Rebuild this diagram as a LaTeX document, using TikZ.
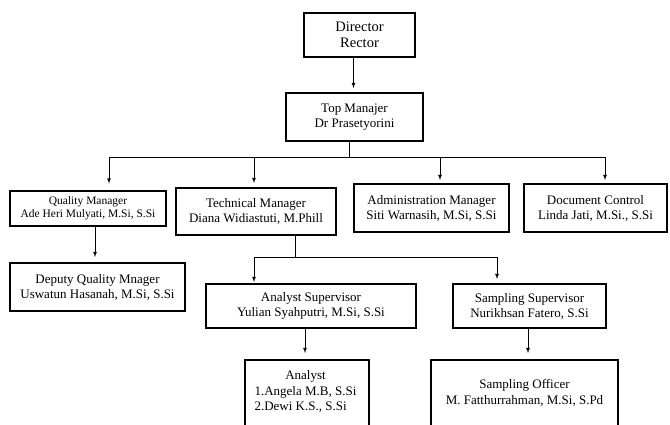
\documentclass[tikz,border=0pt]{standalone}
\usepackage{fontspec}
\setmainfont{Liberation Serif}
\usetikzlibrary{arrows, positioning}

\tikzset{
    box/.style={draw, line width=2pt, align=center, inner sep=2pt, font=\fontsize{13}{15}\selectfont},
    boxtext/.style={align=center, font=\fontsize{13}{15.5}\selectfont},
    link/.style={line width=0.8pt},
    arr/.style={-latex, line width=0.8pt},
}

\begin{document}
\begin{tikzpicture}[x=1pt, y=-1pt]
    \useasboundingbox (0,0) rectangle (670,424);
    \clip (0,0) rectangle (670,424);

    % Head of the chart
    \node[box, line width=2.6pt, minimum width=111, minimum height=44, font=\fontsize{14.5}{16}\selectfont] (dir) at (359.5,35) {Director\\Rector};
    \node[box, minimum width=137, minimum height=48] (top) at (354.5,117) {Top Manajer\\Dr Prasetyorini};

    % Managers
    \node[box, minimum width=156, minimum height=35, font=\fontsize{11.5}{13.5}\selectfont] (qm) at (88,208) {Quality Manager\\Ade Heri Mulyati, M.Si, S.Si};
    \node[box, minimum width=160, minimum height=47] (tm) at (256,211.5) {Technical Manager\\Diana Widiastuti, M.Phill};
    \node[box, minimum width=155, minimum height=48] (am) at (431.5,208) {Administration Manager\\Siti Warnasih, M.Si, S.Si};
    \node[box, minimum width=143, minimum height=48] (dc) at (595.5,208) {Document Control\\Linda Jati, M.Si., S.Si};

    % Second level
    \node[box, minimum width=175, minimum height=48] (dq) at (97.5,287) {Deputy Quality Mnager\\Uswatun Hasanah, M.Si, S.Si};
    \node[box, minimum width=210, minimum height=44] (as) at (311,306) {Analyst Supervisor\\Yulian Syahputri, M.Si, S.Si};
    \node[box, minimum width=153, minimum height=44] (ss) at (529.5,306) {Sampling Supervisor\\Nurikhsan Fatero, S.Si};

    % Staff (cut by the lower edge)
    \node[box, minimum width=124, minimum height=90, anchor=north] (an) at (307,359) {};
    \node[boxtext] (antext) at (305.5,392) {\begin{tabular}{@{}l@{}}\multicolumn{1}{@{}c@{}}{Analyst}\\1.Angela M.B, S.Si\\2.Dewi K.S., S.Si\end{tabular}};
    \node[box, minimum width=187, minimum height=90, anchor=north] (so) at (524.5,359) {};
    \node[boxtext] (sotext) at (524.5,393) {Sampling Officer\\M. Fatthurrahman, M.Si, S.Pd};

    % Director to top
    \draw[arr, shorten >=4pt] ([xshift=-6]dir.south) -- ([xshift=-6]dir.south |- top.north);

    % Top to managers
    \coordinate (bus) at (349,157);
    \coordinate (bq) at (109,157);
    \coordinate (bt) at (254,157);
    \coordinate (ba) at (440,157);
    \coordinate (bd) at (605,157);
    \draw[link] ([xshift=-5.5]top.south) -- (bus);
    \draw[link] (bq) -- (bd);
    \draw[arr, shorten >=6pt] (bq) -- (bq |- qm.north);
    \draw[arr, shorten >=4pt] (bt) -- (bt |- tm.north);
    \draw[arr, shorten >=3pt] (ba) -- (ba |- am.north);
    \draw[arr, shorten >=3pt] (bd) -- (bd |- dc.north);

    % Quality to deputy
    \draw[arr, shorten >=5pt] ([xshift=7]qm.south) -- ([xshift=7]qm.south |- dq.north);

    % Technical to supervisors
    \coordinate (tbus) at (295,257);
    \coordinate (tl) at (254,257);
    \coordinate (tr) at (497,257);
    \draw[link] ([xshift=39]tm.south) -- (tbus);
    \draw[link] (tl) -- (tr);
    \draw[arr, shorten >=1pt] (tl) -- (tl |- as.north);
    \draw[arr, shorten >=4pt] (tr) -- (tr |- ss.north);

    % Supervisors to staff
    \draw[arr, shorten >=6pt] ([xshift=-6]as.south) -- ([xshift=-6]as.south |- an.north);
    \draw[arr, shorten >=6pt] ([xshift=-1.5]ss.south) -- ([xshift=-1.5]ss.south |- so.north);
\end{tikzpicture}
\end{document}
